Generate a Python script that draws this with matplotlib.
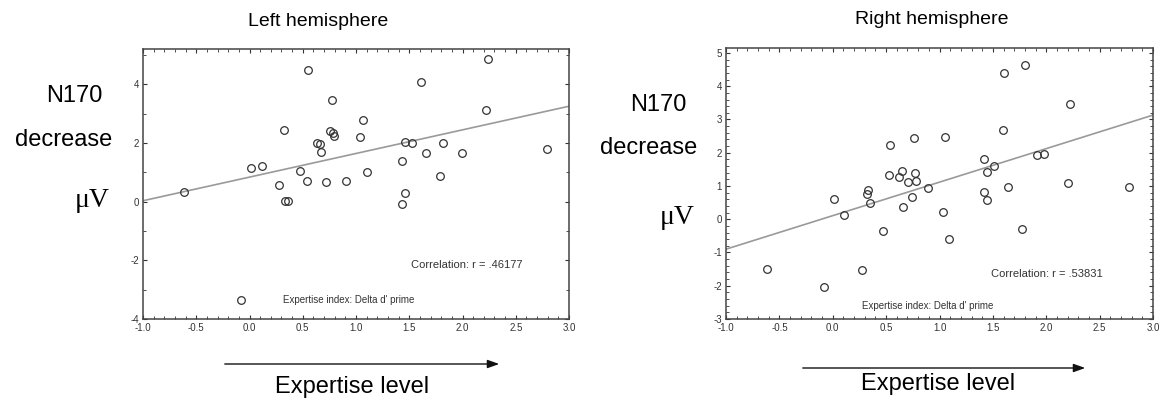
import numpy as np
import matplotlib
matplotlib.use("Agg")
import matplotlib.pyplot as plt
from matplotlib.patches import FancyArrowPatch
from matplotlib.ticker import MultipleLocator

plt.rcParams['font.family'] = ['Liberation Sans', 'DejaVu Sans']

# left hemisphere: expertise index vs N170 decrease
left_x = [-0.615, 0.017, 0.114, 0.28, 0.327, 0.336, 0.358, 0.477, 0.54, 0.549,
          0.634, 0.662, 0.668, 0.721, 0.756, 0.781, 0.79, 0.772, 0.906, 1.04,
          1.063, 1.103, 1.432, 1.435, 1.46, 1.46, 1.523, 1.607, 1.657, 1.789,
          1.82, 1.992, 2.224, 2.237, 2.79]
left_y = [0.34, 1.13, 1.22, 0.57, 2.45, 0.02, 0.02, 1.06, 0.69, 4.5,
          2.01, 1.96, 1.69, 0.66, 2.40, 2.34, 2.24, 3.47, 0.71, 2.20,
          2.77, 1.0, 1.38, -0.07, 0.28, 2.04, 2.01, 4.09, 1.66, 0.88,
          2.01, 1.64, 3.11, 4.87, 1.79]
left_fit = [0.835, 0.805]   # intercept, slope
left_r = ".46177"

# right hemisphere
right_x = [-0.619, -0.085, 0.009, 0.105, 0.271, 0.321, 0.33, 0.349, 0.468, 0.527,
           0.539, 0.621, 0.652, 0.655, 0.708, 0.742, 0.761, 0.77, 0.78, 0.892,
           1.03, 1.049, 1.089, 1.42, 1.42, 1.445, 1.445, 1.508, 1.592, 1.607,
           1.645, 1.776, 1.804, 1.91, 1.982, 2.204, 2.222, 2.775]
right_y = [-1.51, -2.04, 0.62, 0.12, -1.54, 0.76, 0.88, 0.49, -0.35, 1.33,
           2.23, 1.27, 1.45, 0.38, 1.11, 0.68, 2.45, 1.39, 1.16, 0.93,
           0.21, 2.48, -0.6, 1.81, 0.82, 1.41, 0.59, 1.59, 2.67, 4.39,
           0.98, -0.3, 4.64, 1.93, 1.95, 1.08, 3.47, 0.96]
right_fit = [0.108, 1.008]
right_r = ".53831"

W, H = 1164, 407


def fx(px):
    return px / W


def fy(py):
    return 1 - py / H


def draw_panel(ax, xs, ys, fit, r_text, ylim, ymajor, yminor,
               corr_pos, legend_pos, legend_marker):
    ax.set_xlim(-1.0, 3.0)
    ax.set_ylim(*ylim)
    line_x = np.array([-1.0, 3.0])
    ax.plot(line_x, fit[0] + fit[1] * line_x, color='#9a9a9a', lw=1.2, zorder=1)
    ax.plot(xs, ys, 'o', mfc='none', mec='#333333', mew=0.9, ms=5.5, zorder=2)

    ax.xaxis.set_major_locator(MultipleLocator(0.5))
    ax.xaxis.set_minor_locator(MultipleLocator(0.1))
    ax.yaxis.set_major_locator(MultipleLocator(ymajor))
    ax.yaxis.set_minor_locator(MultipleLocator(yminor))
    ax.xaxis.set_major_formatter(plt.FuncFormatter(lambda v, p: f"{v:.1f}"))
    ax.yaxis.set_major_formatter(plt.FuncFormatter(lambda v, p: f"{v:.0f}"))
    ax.tick_params(which='both', direction='in', top=True, right=True,
                   labelsize=7, colors='#333333', pad=3)
    ax.tick_params(which='major', length=3, width=0.8)
    ax.tick_params(which='minor', length=2, width=0.6)
    for s in ax.spines.values():
        s.set_color('#444444')
        s.set_linewidth(1.1)

    ax.text(corr_pos[0], corr_pos[1], "Correlation: r = " + r_text,
            transform=ax.transAxes, ha='right', va='center', fontsize=8,
            color='#333333')
    ax.text(legend_pos[0], legend_pos[1], "Expertise index: Delta d' prime",
            transform=ax.transAxes, ha='left', va='center', fontsize=7,
            color='#333333')
    if legend_marker:
        ax.plot([0.23], [legend_pos[1]], 'o', mfc='none', mec='#333333',
                mew=0.9, ms=5.5, transform=ax.transAxes)


fig = plt.figure(figsize=(W / 100, H / 100), dpi=100)
fig.patch.set_facecolor('white')

ax1 = fig.add_axes([fx(143), fy(319), (569 - 143) / W, (319 - 49) / H])
draw_panel(ax1, left_x, left_y, left_fit, left_r, (-4, 5.2), 2, 1,
           (0.892, 0.2), (0.329, 0.07), True)

ax2 = fig.add_axes([fx(726), fy(319), (1153 - 726) / W, (319 - 48) / H])
draw_panel(ax2, right_x, right_y, right_fit, right_r, (-3, 5.15), 1, 0.2,
           (0.883, 0.166), (0.318, 0.048), False)

# titles
fig.text(fx(318), fy(22), "Left hemisphere", ha='center', va='center', fontsize=14)
fig.text(fx(932), fy(19), "Right hemisphere", ha='center', va='center', fontsize=14)

# y-axis labels
fig.text(fx(102), fy(96), "N170", ha='right', va='center', fontsize=17)
fig.text(fx(112), fy(140), "decrease", ha='right', va='center', fontsize=17)
fig.text(fx(110), fy(200), "\u03bcV", ha='right', va='center', fontsize=20,
         family=['Liberation Serif', 'DejaVu Serif'])
fig.text(fx(687), fy(105), "N170", ha='right', va='center', fontsize=17)
fig.text(fx(697), fy(148), "decrease", ha='right', va='center', fontsize=17)
fig.text(fx(695), fy(217), "\u03bcV", ha='right', va='center', fontsize=20,
         family=['Liberation Serif', 'DejaVu Serif'])

# expertise arrows
for x0, x1, ya, xt, yt in [(222, 502, 364, 352, 387), (800, 1088, 368, 938, 384)]:
    fig.add_artist(FancyArrowPatch(
        (fx(x0), fy(ya)), (fx(x1), fy(ya)), transform=fig.transFigure,
        arrowstyle='-|>,head_length=7,head_width=2.5', color='#111111', lw=1.0))
    fig.text(fx(xt), fy(yt), "Expertise level", ha='center', va='center', fontsize=17)

fig.savefig("out.png", dpi=100)
